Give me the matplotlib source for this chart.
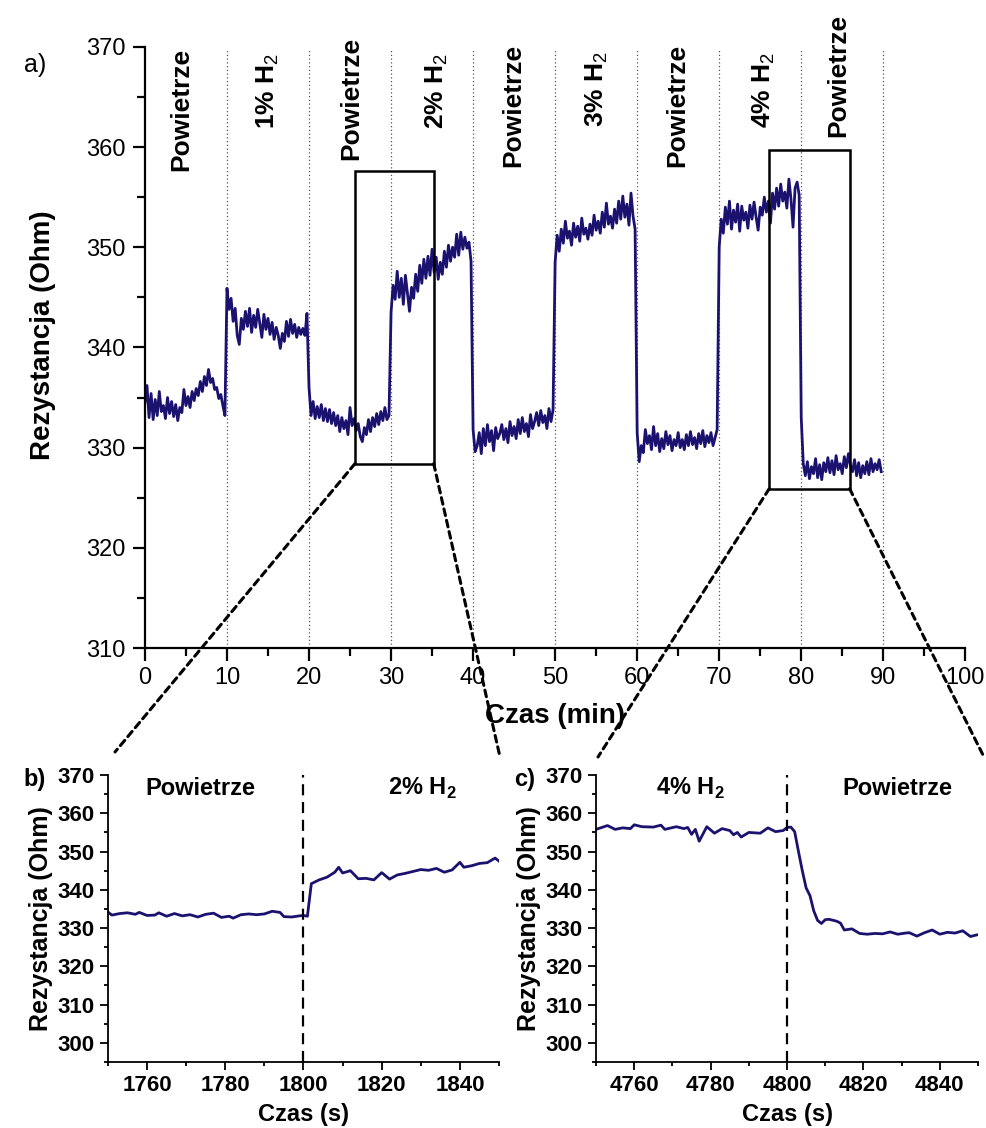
import numpy as np
import matplotlib
matplotlib.use("Agg")
import matplotlib.pyplot as plt
from matplotlib.patches import Rectangle, ConnectionPatch
from matplotlib.ticker import MultipleLocator

plt.rcParams['font.family'] = ['Liberation Sans', 'DejaVu Sans']
plt.rcParams['mathtext.fontset'] = 'custom'
plt.rcParams['mathtext.rm'] = 'Liberation Sans'
plt.rcParams['mathtext.bf'] = 'Liberation Sans:bold'

# --- dane: rezystancja co 0.25 min, segmenty po 10 min ---
seg_starts = [0, 10, 20, 30, 40, 50, 60, 70, 80]
seg_powietrze_0 = [334.5, 336.2, 333.0, 335.4, 332.8, 334.8, 333.2, 335.6, 333.6, 334.2,
                   332.9, 335.0, 333.4, 334.6, 333.1, 334.3, 332.7, 334.0, 333.5, 335.8,
                   334.2, 335.1, 334.0, 335.6, 334.7, 335.9, 335.2, 336.6, 335.6, 337.1,
                   336.2, 337.8, 336.5, 336.9, 335.8, 336.0, 334.9, 335.3, 334.2, 333.2]
seg_h2_1 = [345.9, 343.8, 344.9, 342.6, 343.9, 341.2, 340.3, 342.9, 341.8, 343.6,
            342.1, 343.9, 341.5, 343.2, 342.0, 343.8, 342.4, 341.0, 343.3, 341.8,
            342.9, 341.3, 342.5, 340.8, 342.0, 341.2, 339.9, 341.4, 340.6, 342.6,
            341.1, 342.8, 341.4, 342.3, 341.0, 342.0, 341.3, 341.9, 341.2, 343.4]
seg_powietrze_1 = [336.0, 333.2, 334.6, 332.9, 334.1, 333.0, 334.3, 332.7, 333.9, 332.6,
                   333.8, 332.4, 333.5, 332.2, 333.2, 331.6, 333.0, 331.9, 332.7, 331.3,
                   334.0, 332.2, 332.9, 331.7, 332.4, 331.1, 330.6, 332.0, 331.3, 332.8,
                   331.6, 333.0, 332.1, 333.4, 332.3, 333.6, 332.7, 334.0, 332.8, 333.2]
seg_h2_2 = [343.5, 346.2, 344.8, 347.6, 345.0, 346.9, 344.3, 347.2, 345.4, 343.6,
            346.0, 344.9, 347.3, 345.6, 348.2, 346.4, 348.8, 346.9, 349.1, 347.2,
            349.8, 347.5, 349.0, 346.8, 348.5, 347.3, 349.6, 348.0, 350.2, 348.6,
            350.0, 349.0, 351.3, 349.2, 351.5, 349.8, 351.0, 349.9, 350.5, 348.6]
seg_powietrze_2 = [331.8, 329.6, 330.2, 331.5, 329.4, 331.9, 330.2, 332.3, 330.6, 331.7,
                   329.7, 332.0, 330.9, 331.4, 332.3, 330.8, 331.9, 330.5, 332.6, 331.2,
                   332.1, 330.9, 332.8, 331.4, 333.0, 331.6, 332.4, 331.1, 333.3, 331.9,
                   332.6, 333.5, 332.2, 333.7, 332.5, 333.2, 331.9, 333.9, 332.6, 333.8]
seg_h2_3 = [348.5, 351.2, 349.6, 351.8, 350.4, 352.6, 350.9, 351.6, 350.2, 352.4,
            351.0, 352.1, 350.6, 352.9, 351.3, 351.9, 350.8, 352.3, 351.2, 353.2,
            351.7, 352.6, 351.4, 353.5, 352.0, 354.4, 352.3, 353.1, 351.9, 353.8,
            352.4, 354.6, 352.8, 355.1, 353.0, 354.3, 352.2, 355.4, 353.1, 351.8]
seg_powietrze_3 = [331.5, 328.6, 330.2, 329.5, 331.8, 330.4, 331.2, 329.8, 332.1, 330.2,
                   331.4, 329.6, 330.9, 329.9, 331.6, 330.3, 331.2, 329.7, 330.8, 330.2,
                   331.5, 330.0, 330.8, 329.8, 331.3, 330.2, 331.6, 330.3, 331.0, 329.9,
                   331.4, 330.4, 331.7, 330.1, 331.2, 330.5, 331.5, 330.2, 331.0, 331.8]
seg_h2_4 = [350.0, 352.8, 351.4, 354.0, 352.3, 354.6, 351.8, 353.7, 352.5, 354.3,
            351.6, 354.1, 352.7, 353.5, 351.9, 354.2, 352.8, 354.5, 353.0, 351.7,
            354.0, 353.2, 355.0, 353.5, 354.6, 352.4, 355.4, 353.8, 355.9, 354.1,
            356.3, 354.6, 355.5, 353.9, 356.8, 354.8, 352.0, 355.9, 356.5, 355.2]
seg_powietrze_4 = [333.0, 328.4, 327.2, 328.6, 326.9, 328.1, 327.4, 328.9, 327.0, 328.3,
                   326.8, 328.5, 327.6, 329.0, 327.5, 328.7, 327.3, 329.2, 327.8, 328.4,
                   327.4, 329.1, 328.0, 329.4, 328.2, 327.6, 328.8, 327.2, 328.5, 327.0,
                   328.2, 327.4, 328.6, 327.3, 328.9, 327.6, 328.4, 327.8, 328.8, 327.6]
segments = [seg_powietrze_0, seg_h2_1, seg_powietrze_1, seg_h2_2, seg_powietrze_2,
            seg_h2_3, seg_powietrze_3, seg_h2_4, seg_powietrze_4]

etykiety = ["Powietrze", "1% H$_2$", "Powietrze", "2% H$_2$", "Powietrze",
            "3% H$_2$", "Powietrze", "4% H$_2$", "Powietrze"]

# zoom b) (s)
t_b = [1750, 1751, 1753, 1755, 1757, 1758, 1760, 1762, 1763, 1765, 1767, 1769, 1771, 1773,
       1775, 1777, 1779, 1781, 1782, 1784, 1786, 1788, 1790, 1792, 1794, 1795, 1797, 1799,
       1800, 1801, 1802, 1804, 1806, 1808, 1809, 1810, 1812, 1814, 1816, 1818, 1820, 1822,
       1824, 1826, 1828, 1830, 1832, 1834, 1836, 1838, 1840, 1841, 1843, 1845, 1847, 1849, 1850]
r_b = [334.2, 333.4, 333.8, 334.0, 333.6, 334.1, 333.3, 333.4, 334.0, 333.1, 333.8, 333.2,
       333.5, 332.9, 333.6, 333.9, 332.8, 333.1, 332.6, 333.5, 333.7, 333.5, 333.7, 334.4,
       334.1, 333.0, 332.9, 333.2, 333.3, 333.1, 341.6, 342.6, 343.3, 344.6, 345.9, 344.4,
       345.0, 342.9, 343.0, 342.6, 344.5, 342.8, 343.9, 344.3, 344.8, 345.3, 345.1, 345.6,
       344.6, 345.2, 347.2, 345.9, 346.3, 346.9, 347.1, 348.3, 347.5]

# zoom c) (s)
t_c = [4750, 4753, 4755, 4757, 4759, 4760, 4762, 4765, 4767, 4768, 4771, 4773, 4774, 4775,
       4776, 4777, 4779, 4781, 4783, 4785, 4786, 4787, 4788, 4790, 4793, 4795, 4797, 4799,
       4800, 4801, 4802, 4803, 4804, 4805, 4806, 4807, 4808, 4809, 4810, 4811, 4813, 4814,
       4815, 4817, 4819, 4821, 4823, 4825, 4827, 4829, 4831, 4832, 4834, 4836, 4838, 4840,
       4842, 4844, 4846, 4848, 4850]
r_c = [355.8, 356.8, 355.8, 356.2, 356.0, 357.0, 356.5, 356.4, 356.9, 355.8, 356.5, 356.0,
       356.3, 354.5, 355.8, 352.7, 356.5, 354.8, 356.0, 355.5, 354.4, 355.0, 353.8, 355.0,
       354.8, 356.2, 355.2, 355.5, 356.3, 356.4, 355.2, 350.0, 345.0, 340.5, 338.5, 334.5,
       332.0, 331.2, 332.2, 332.3, 331.8, 331.3, 329.5, 329.8, 328.6, 328.4, 328.6, 328.5,
       329.0, 328.4, 328.7, 328.8, 327.9, 328.8, 329.5, 328.4, 328.9, 328.7, 329.3, 327.8, 328.3]

kolor = '#1b1270'

t_min = np.concatenate([s0 + 0.25 * np.arange(len(seg)) for s0, seg in zip(seg_starts, segments)])
r_min = np.concatenate(segments)

fig = plt.figure(figsize=(9.86, 11.28), dpi=100)

# ---- a) ----
ax = fig.add_axes([0.147, 0.4255, 0.832, 0.533])
ax.plot(t_min, r_min, color=kolor, lw=2.0)
for xv in range(10, 100, 10):
    ax.axvline(xv, ymax=0.995, color='#555555', lw=0.9, ls=(0, (1, 2)), zorder=0)
ax.set_xlim(0, 100)
ax.set_ylim(310, 370)
ax.xaxis.set_major_locator(MultipleLocator(10))
ax.xaxis.set_minor_locator(MultipleLocator(5))
ax.yaxis.set_major_locator(MultipleLocator(10))
ax.yaxis.set_minor_locator(MultipleLocator(5))
for s in ['top', 'right']:
    ax.spines[s].set_visible(False)
for s in ['left', 'bottom']:
    ax.spines[s].set_linewidth(1.6)
ax.tick_params(which='major', length=9, width=1.6, labelsize=17, pad=5)
ax.tick_params(which='minor', length=5.5, width=1.6)
ax.set_xlabel("Czas (min)", fontsize=20, fontweight='bold', labelpad=10)
ax.set_ylabel("Rezystancja (Ohm)", fontsize=20, fontweight='bold')
ax.yaxis.set_label_coords(-0.108, 0.52)
ax.text(-0.134, 0.97, "a)", transform=ax.transAxes, fontsize=18, ha='center', va='center')

# etykiety faz
x_lab = [4.4, 15.0, 25.2, 35.6, 44.9, 55.1, 64.9, 75.4, 84.5]
y_lab = [363.8, 365.6, 364.8, 365.6, 364.1, 365.8, 364.1, 365.7, 367.1]
for xl, yl, txt in zip(x_lab, y_lab, etykiety):
    ax.text(xl, yl, txt, rotation=90, ha='center', va='center', fontsize=19,
            fontweight='bold', clip_on=False)

# ramki
ax.add_patch(Rectangle((25.6, 328.4), 9.6, 29.2, fill=False, ec='black', lw=1.8, zorder=5))
ax.add_patch(Rectangle((76.1, 325.9), 9.8, 33.8, fill=False, ec='black', lw=1.8, zorder=5))

# ---- b) i c) ----
def panel(rect, t, r, xlim, xv, lab_left, lab_right, x_left, x_right, litera):
    a = fig.add_axes(rect)
    a.plot(t, r, color=kolor, lw=2.0)
    a.axvline(xv, color='black', lw=1.6, ls=(0, (5, 3)))
    a.set_xlim(*xlim)
    a.set_ylim(295, 370)
    a.xaxis.set_major_locator(MultipleLocator(20))
    a.xaxis.set_minor_locator(MultipleLocator(10))
    a.yaxis.set_major_locator(MultipleLocator(10))
    a.yaxis.set_minor_locator(MultipleLocator(5))
    for s in ['top', 'right']:
        a.spines[s].set_visible(False)
    for s in ['left', 'bottom']:
        a.spines[s].set_linewidth(1.3)
    a.tick_params(which='major', length=5.5, width=1.3, labelsize=16, pad=4)
    a.tick_params(which='minor', length=3, width=1.3)
    for lb in a.get_xticklabels() + a.get_yticklabels():
        lb.set_fontweight('bold')
    a.set_xlabel("Czas (s)", fontsize=17, fontweight='bold', labelpad=5)
    a.set_ylabel("Rezystancja (Ohm)", fontsize=18, fontweight='bold', labelpad=3)
    a.text(x_left, 366.5, lab_left, ha='center', va='center', fontsize=17, fontweight='bold')
    a.text(x_right, 366.5, lab_right, ha='center', va='center', fontsize=17, fontweight='bold')
    a.text(-0.215, 0.985, litera, transform=a.transAxes, fontsize=17, fontweight='bold',
           va='center')
    return a

axb = panel([0.1095, 0.0585, 0.3966, 0.2544], t_b, r_b, (1750, 1850), 1800,
            "Powietrze", "2% H$_\\mathbf{2}$", 1773.6, 1830.3, "b)")
axc = panel([0.6045, 0.0585, 0.3874, 0.2544], t_c, r_c, (4750, 4850), 4800,
            "4% H$_\\mathbf{2}$", "Powietrze", 4774.7, 4829, "c)")

# linie powiekszenia
W, H = 986.0, 1128.0
polaczenia = [((25.6, 328.4), (115, 752)), ((35.2, 328.4), (500, 757)),
              ((76.1, 325.9), (598, 757)), ((85.9, 325.9), (984, 757))]
for xyA, (px, py) in polaczenia:
    cp = ConnectionPatch(xyA=xyA, coordsA='data', axesA=ax,
                         xyB=(px / W, 1 - py / H), coordsB='figure fraction',
                         color='black', lw=2.2, ls=(0, (2.2, 1.6)), zorder=10)
    fig.add_artist(cp)

fig.savefig("out.png", dpi=100, facecolor='white')
